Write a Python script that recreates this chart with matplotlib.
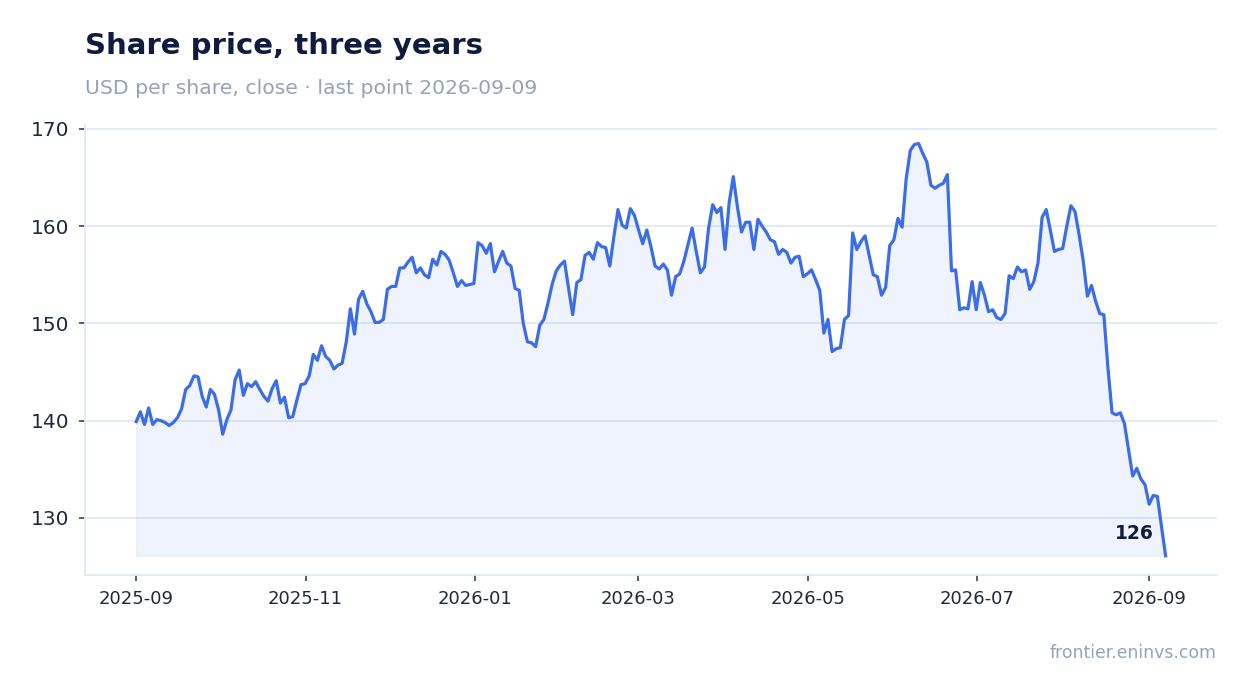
import matplotlib
matplotlib.use("Agg")
import matplotlib.pyplot as plt
import matplotlib.dates as mdates
import numpy as np
import pandas as pd

# ---- data -------------------------------------------------------------
start_date = "2025-09-01"
end_date = "2026-09-07"
prices = [
    # Sep - Oct 2025
    139.9, 140.9, 139.6, 141.3, 139.6, 140.1, 140.0, 139.8, 139.5, 139.8,
    140.3, 141.2, 143.2, 143.6, 144.6, 144.5, 142.5, 141.4, 143.2, 142.7,
    141.1, 138.6, 140.1, 141.1, 144.2, 145.2, 142.6, 143.8, 143.5, 144.0,
    143.2, 142.5,
    # Oct - Dec 2025
    142.0, 143.3, 144.1, 141.8, 142.4, 140.3, 140.4, 142.1, 143.7, 143.8,
    144.6, 146.8, 146.2, 147.7, 146.6, 146.2, 145.3, 145.7, 145.9, 148.1,
    151.5, 148.9, 152.5, 153.3, 152.0, 151.2, 150.1, 150.1, 150.4, 153.5,
    # Dec 2025 - Jan 2026
    153.8, 153.8, 155.7, 155.7, 156.3, 156.8, 155.2, 155.7, 155.0, 154.7,
    156.6, 156.0, 157.4, 157.1, 156.5, 155.2, 153.8, 154.4, 153.9, 154.0,
    154.1, 158.3, 158.0, 157.2, 158.2, 155.3, 156.4, 157.4, 156.2, 155.9,
    153.6,
    # Jan - Feb 2026
    153.4, 150.0, 148.1, 148.0, 147.6, 149.8, 150.4, 152.1, 154.0, 155.4,
    156.0, 156.4, 153.6, 150.9, 154.2, 154.5, 157.0, 157.3, 156.6, 158.3,
    157.9, 157.8, 155.9,
    # Feb - May 2026
    158.9, 161.7, 160.1, 159.8, 161.8, 161.1, 159.6, 158.2, 159.6, 157.9,
    155.9, 155.6, 156.1, 155.5, 152.9, 154.8, 155.1, 156.4, 158.1, 159.8,
    157.4, 155.2, 155.8, 159.8, 162.2, 161.4, 161.9, 157.6, 162.4, 165.1,
    162.0, 159.4, 160.4, 160.4, 157.6, 160.7, 160.0, 159.4, 158.6, 158.4,
    157.1, 157.6, 157.3, 156.2, 156.8, 156.9, 154.8, 155.1, 155.5, 154.5,
    153.4, 149.0, 150.4, 147.1, 147.4, 147.5, 150.4, 150.8, 159.3, 157.6,
    158.4,
    # May - Jul 2026
    159.0, 157.0, 155.0, 154.8, 152.9, 153.7, 158.0, 158.6, 160.8, 159.9,
    164.9, 167.8, 168.4, 168.5, 167.5, 166.6, 164.2, 163.9, 164.2, 164.4,
    165.3, 155.4, 155.5, 151.4, 151.6, 151.5, 154.3, 151.4, 154.2, 152.9,
    151.2,
    # Jul - Aug 2026
    151.4, 150.6, 150.4, 151.0, 154.9, 154.6, 155.8, 155.3, 155.5, 153.5,
    154.3, 156.2, 160.9, 161.7, 159.6, 157.4, 157.6, 157.7, 160.0, 162.1,
    161.5, 159.1, 156.4, 152.8, 153.9, 152.3, 151.0, 150.9, 145.4, 140.8,
    140.6, 140.8, 139.7,
    # Aug - Sep 2026
    137.0, 134.3, 135.1, 134.0, 133.4, 131.4, 132.3, 132.2, 129.1, 126.1,
]
y_ticks = [130, 140, 150, 160, 170]
title_text = "Share price, three years"
subtitle_text = "USD per share, close \u00b7 last point 2026-09-09"
footer_text = "frontier.eninvs.com"

dates = pd.date_range(start_date, end_date, periods=len(prices))
values = np.array(prices)

# ---- style ------------------------------------------------------------
line_color = "#3b6de6"
navy = "#0f1c3f"
muted = "#94a3b8"
grid_c = "#e2e8f0"
tick_text = "#1e293b"

plt.rcParams["font.family"] = ["DejaVu Sans"]

fig = plt.figure(figsize=(12.47, 6.93), dpi=100)
ax = fig.add_axes([0.068, 0.170, 0.908, 0.651])

ax.plot(dates, values, color=line_color, lw=2.3, solid_joinstyle="round", zorder=3)
ax.fill_between(dates, values, values.min(), color=line_color, alpha=0.08,
                lw=1.0, zorder=2)

ax.set_ylim(values.min() - 2, values.max() + 2)
ax.set_yticks(y_ticks)
ax.xaxis.set_major_locator(mdates.MonthLocator(bymonth=[1, 3, 5, 7, 9, 11]))
ax.xaxis.set_major_formatter(mdates.DateFormatter("%Y-%m"))

ax.grid(axis="y", color=grid_c, lw=1.3, zorder=0)
ax.set_axisbelow(True)
for s in ["top", "right"]:
    ax.spines[s].set_visible(False)
for s in ["left", "bottom"]:
    ax.spines[s].set_color(grid_c)
    ax.spines[s].set_linewidth(1.3)

ax.tick_params(axis="x", labelsize=13, colors="#334155", labelcolor=tick_text,
               length=4.5, width=1.2, pad=6)
ax.tick_params(axis="y", labelsize=14.5, colors="#334155", labelcolor=tick_text,
               length=4, width=1.2, pad=7)

# last value annotation
ax.annotate(f"{values[-1]:.0f}", xy=(dates[-1], values[-1]),
            xytext=(-12, 22), textcoords="offset pixels",
            ha="right", va="center", fontsize=13.5, fontweight="bold",
            color=navy, zorder=4)

fig.text(0.068, 0.922, title_text, fontsize=21, fontweight="bold",
         color=navy, ha="left", va="baseline")
fig.text(0.068, 0.864, subtitle_text, fontsize=14.7, color=muted,
         ha="left", va="baseline")
fig.text(0.976, 0.050, footer_text, fontsize=12.4, color=muted,
         ha="right", va="baseline")

fig.savefig("out.png", dpi=100)
